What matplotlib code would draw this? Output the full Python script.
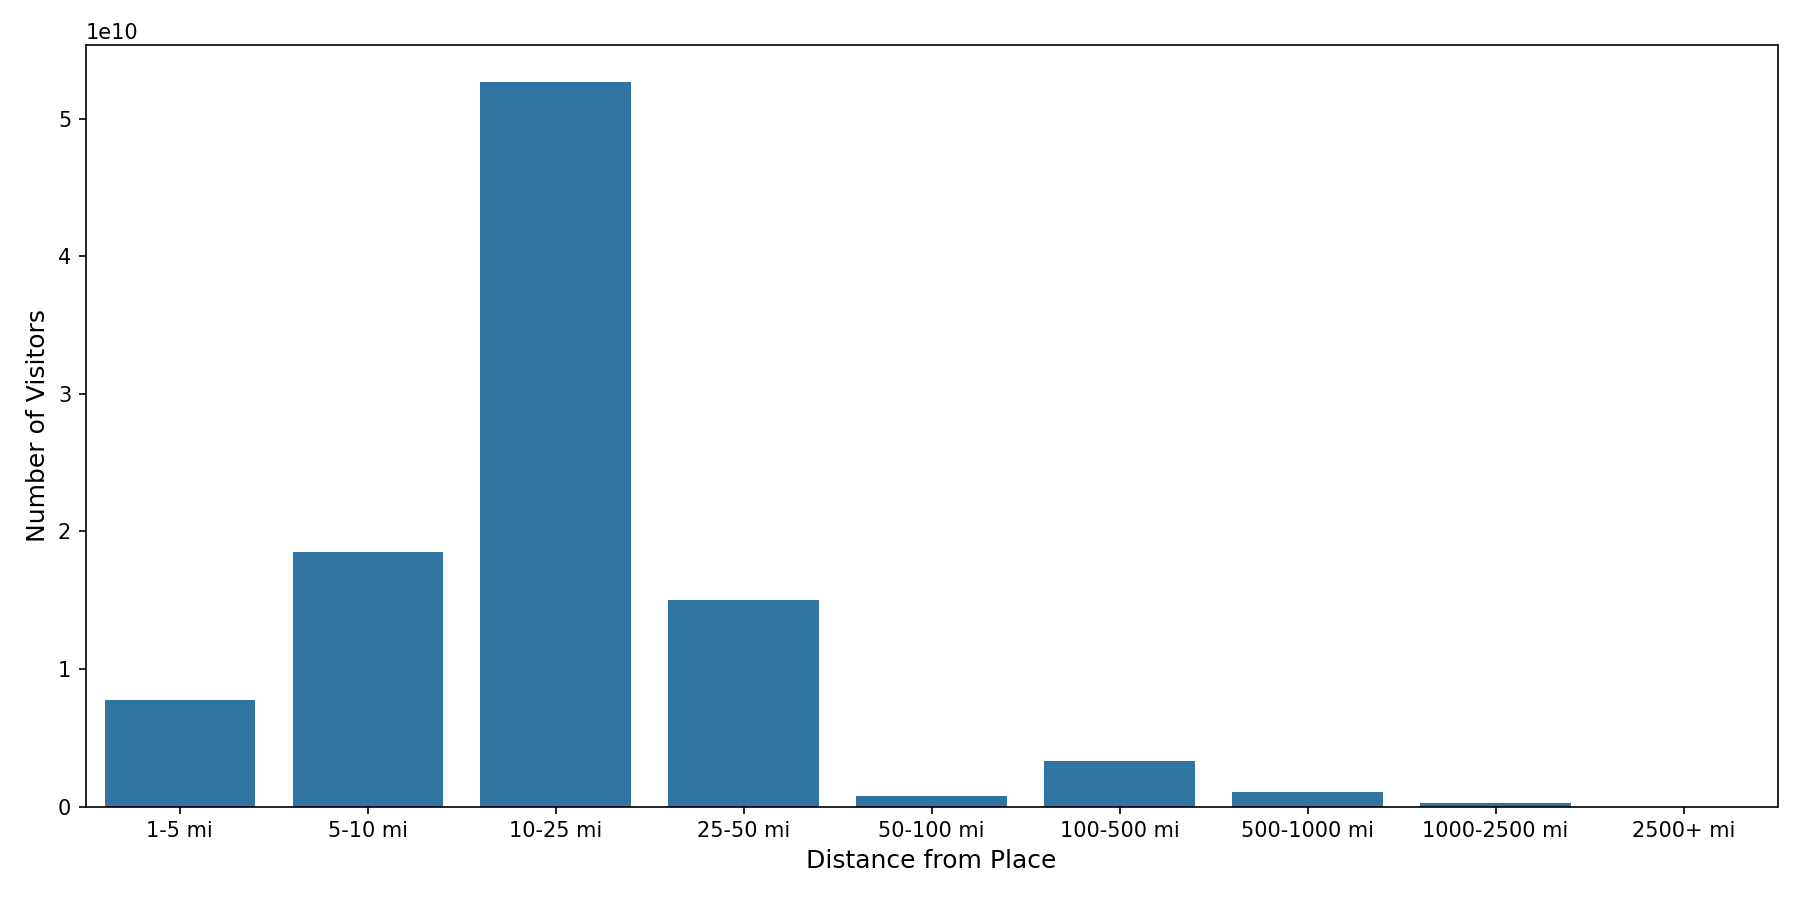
import matplotlib
matplotlib.use("Agg")
import matplotlib.pyplot as plt
import seaborn as sns
import pandas as pd

# --------------------------------------------------
# DATA
# --------------------------------------------------

DISTANCE_BINS = ["1-5 mi", "5-10 mi", "10-25 mi", "25-50 mi", "50-100 mi",
                 "100-500 mi", "500-1000 mi", "1000-2500 mi", "2500+ mi"]
VISITORS = [0.775e10, 1.851e10, 5.269e10, 1.502e10, 0.076e10,
            0.331e10, 0.105e10, 0.025e10, 0.0005e10]

df = pd.DataFrame({"distance": DISTANCE_BINS, "visitors": VISITORS})

# --------------------------------------------------
# PLOT
# --------------------------------------------------

fig, ax = plt.subplots(figsize=(12, 6))
sns.barplot(data=df, x="distance", y="visitors", ax=ax)

ax.set_xlabel("Distance from Place", fontsize=12)
ax.set_ylabel("Number of Visitors", fontsize=12)

plt.tight_layout()
plt.savefig("out.png", dpi=150)
plt.close()
